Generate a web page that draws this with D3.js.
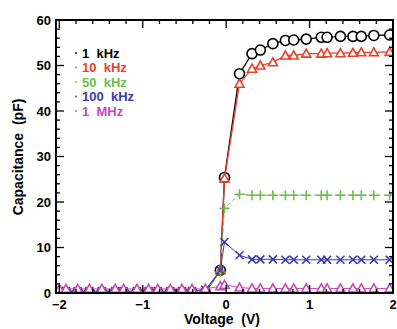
<!DOCTYPE html>
<html>
<head>
<meta charset="utf-8">
<script src="https://cdn.jsdelivr.net/npm/d3@7"></script>
<style>
  body { margin: 0; background: #fff; }
  svg text { font-family: "Liberation Sans", Arial, sans-serif; font-weight: bold; }
</style>
</head>
<body>
<div id="chart"></div>
<script>
const width = 397
const height = 329

// voltage grid (V)
const voltage = [-2.0, -1.92, -1.78, -1.64, -1.49, -1.33, -1.23, -1.07, -0.93, -0.82, -0.67, -0.53, -0.41, -0.25,
  -0.07, -0.02,
  0.16, 0.31, 0.41, 0.56, 0.71, 0.81, 0.96, 1.14, 1.21, 1.37, 1.52, 1.62, 1.77, 1.96]

const c1k = [0.1, 0.1, 0.1, 0.1, 0.1, 0.1, 0.1, 0.1, 0.1, 0.1, 0.1, 0.1, 0.1, 0.1,
  5.0, 25.4,
  48.2, 52.6, 53.4, 54.8, 55.5, 55.6, 55.8, 56.2, 56.2, 56.4, 56.4, 56.4, 56.6, 56.7]
const c10k = [0.2, 0.2, 0.2, 0.2, 0.2, 0.2, 0.2, 0.2, 0.2, 0.2, 0.2, 0.2, 0.2, 0.2,
  5.0, 25.2,
  46.0, 49.3, 50.0, 50.7, 52.2, 52.2, 52.6, 52.6, 52.7, 52.7, 52.8, 52.9, 52.9, 53.0]
const c50k = [0.3, 0.3, 0.3, 0.3, 0.3, 0.3, 0.3, 0.3, 0.3, 0.3, 0.3, 0.3, 0.3, 0.4,
  4.6, 18.6,
  21.7, 21.5, 21.5, 21.5, 21.5, 21.5, 21.5, 21.5, 21.5, 21.5, 21.5, 21.5, 21.5, 21.5]
const c100k = [0.4, 0.4, 0.4, 0.4, 0.4, 0.4, 0.4, 0.4, 0.4, 0.4, 0.4, 0.4, 0.4, 0.7,
  5.0, 11.2,
  8.3, 7.4, 7.4, 7.4, 7.3, 7.3, 7.3, 7.3, 7.3, 7.3, 7.3, 7.3, 7.3, 7.3]
const c1M = [0.9, 0.9, 0.9, 0.9, 0.9, 0.9, 0.9, 0.9, 0.9, 0.9, 0.9, 0.9, 0.9, 0.9,
  1.5, 1.8,
  1.2, 1.0, 1.0, 1.0, 1.0, 1.0, 1.0, 1.0, 1.0, 1.0, 1.0, 1.0, 1.0, 1.0]

const seriesNames = ['1  kHz', '10  kHz', '50  kHz', '100  kHz', '1  MHz']
const seriesColors = ['#000000', '#e8402a', '#6cc04a', '#3a3ab0', '#c848b8']
const yTicks = [0, 10, 20, 30, 40, 50, 60]
const xTicks = [-2, -1, 0, 1, 2]

const series = [
  { name: seriesNames[0], color: seriesColors[0], values: c1k, symbol: 'circle', dash: null, lw: 1.3 },
  { name: seriesNames[1], color: seriesColors[1], values: c10k, symbol: 'triangle', dash: null, lw: 1.3 },
  { name: seriesNames[2], color: seriesColors[2], values: c50k, symbol: 'plus', dash: '4,3', lw: 1 },
  { name: seriesNames[3], color: seriesColors[3], values: c100k, symbol: 'cross', dash: null, lw: 1 },
  { name: seriesNames[4], color: seriesColors[4], values: c1M, symbol: 'triangle', dash: null, lw: 1 }
]

const margin = { top: 20, right: 4, bottom: 36, left: 56 }
const iw = width - margin.left - margin.right
const ih = height - margin.top - margin.bottom

const x = d3.scaleLinear().domain([-2.04, 2]).range([0, iw])
const y = d3.scaleLinear().domain([0, 60]).range([ih, 0])

const svg = d3.select('#chart').append('svg')
  .attr('width', width).attr('height', height)

const g = svg.append('g').attr('transform', `translate(${margin.left},${margin.top})`)

g.append('clipPath').attr('id', 'clip')
  .append('rect').attr('width', iw).attr('height', ih)

const plot = g.append('g').attr('clip-path', 'url(#clip)')
const line = d3.line().x((d, i) => x(voltage[i])).y(d => y(d))

function drawSymbol (sel, s) {
  const pts = s.values.map((v, i) => [x(voltage[i]), y(v)])
  const m = sel.append('g').attr('fill', '#fff').attr('stroke', s.color).attr('stroke-width', 1.6)
  pts.forEach(([px, py]) => {
    if (s.symbol === 'circle') {
      m.append('circle').attr('cx', px).attr('cy', py).attr('r', 5)
    } else if (s.symbol === 'triangle') {
      m.append('path').attr('d', `M${px - 4.5},${py + 3.5}L${px},${py - 4.5}L${px + 4.5},${py + 3.5}Z`)
    } else if (s.symbol === 'plus') {
      m.append('path').attr('d', `M${px - 5},${py}H${px + 5}M${px},${py - 5}V${py + 5}`)
    } else {
      m.append('path').attr('d', `M${px - 4},${py - 4}L${px + 4},${py + 4}M${px - 4},${py + 4}L${px + 4},${py - 4}`)
    }
  })
}

series.forEach(s => {
  plot.append('path').datum(s.values)
    .attr('d', line).attr('fill', 'none')
    .attr('stroke', s.color).attr('stroke-width', s.lw)
    .attr('stroke-dasharray', s.dash)
  drawSymbol(plot, s)
})

// ticks, inward on all four sides
const minorX = d3.range(-2, 2.001, 0.2)
const minorY = d3.range(0, 60.001, 2)
const tk = g.append('g').attr('stroke', '#000').attr('stroke-width', 1.3)
minorX.forEach(v => {
  const major = Math.abs(v - Math.round(v)) < 1e-6
  const len = major ? 8 : 4
  tk.append('line').attr('x1', x(v)).attr('x2', x(v)).attr('y1', ih).attr('y2', ih - len)
  tk.append('line').attr('x1', x(v)).attr('x2', x(v)).attr('y1', 0).attr('y2', len)
})
minorY.forEach(v => {
  const major = v % 10 === 0
  const len = major ? 8 : 4
  tk.append('line').attr('x1', 0).attr('x2', len).attr('y1', y(v)).attr('y2', y(v))
  tk.append('line').attr('x1', iw).attr('x2', iw - len).attr('y1', y(v)).attr('y2', y(v))
})

g.append('rect').attr('width', iw).attr('height', ih)
  .attr('fill', 'none').attr('stroke', '#000').attr('stroke-width', 2)

g.selectAll('.ylab').data(yTicks).enter().append('text')
  .attr('x', -5).attr('y', d => y(d)).attr('dy', '0.35em')
  .attr('text-anchor', 'end').attr('font-size', 13).text(d => d)

g.selectAll('.xlab').data(xTicks).enter().append('text')
  .attr('x', d => x(d)).attr('y', ih + 16)
  .attr('text-anchor', 'middle').attr('font-size', 13)
  .text(d => d < 0 ? '\u2212' + Math.abs(d) : d)

svg.append('text').attr('x', 222).attr('y', 324)
  .attr('text-anchor', 'middle').attr('font-size', 14)
  .style('white-space', 'pre').text('Voltage  (V)')

svg.append('text').attr('transform', 'translate(23,157) rotate(-90)')
  .attr('text-anchor', 'middle').attr('font-size', 14)
  .style('white-space', 'pre').text('Capacitance  (pF)')

// legend
const leg = svg.append('g')
series.forEach((s, i) => {
  const ly = 53 + i * 14.5
  leg.append('circle').attr('cx', 76).attr('cy', ly).attr('r', 0.9).attr('fill', s.color)
  leg.append('text').attr('x', 82).attr('y', ly).attr('dy', '0.35em')
    .attr('font-size', 13).attr('fill', s.color)
    .style('white-space', 'pre').text(s.name)
})
</script>
</body>
</html>
